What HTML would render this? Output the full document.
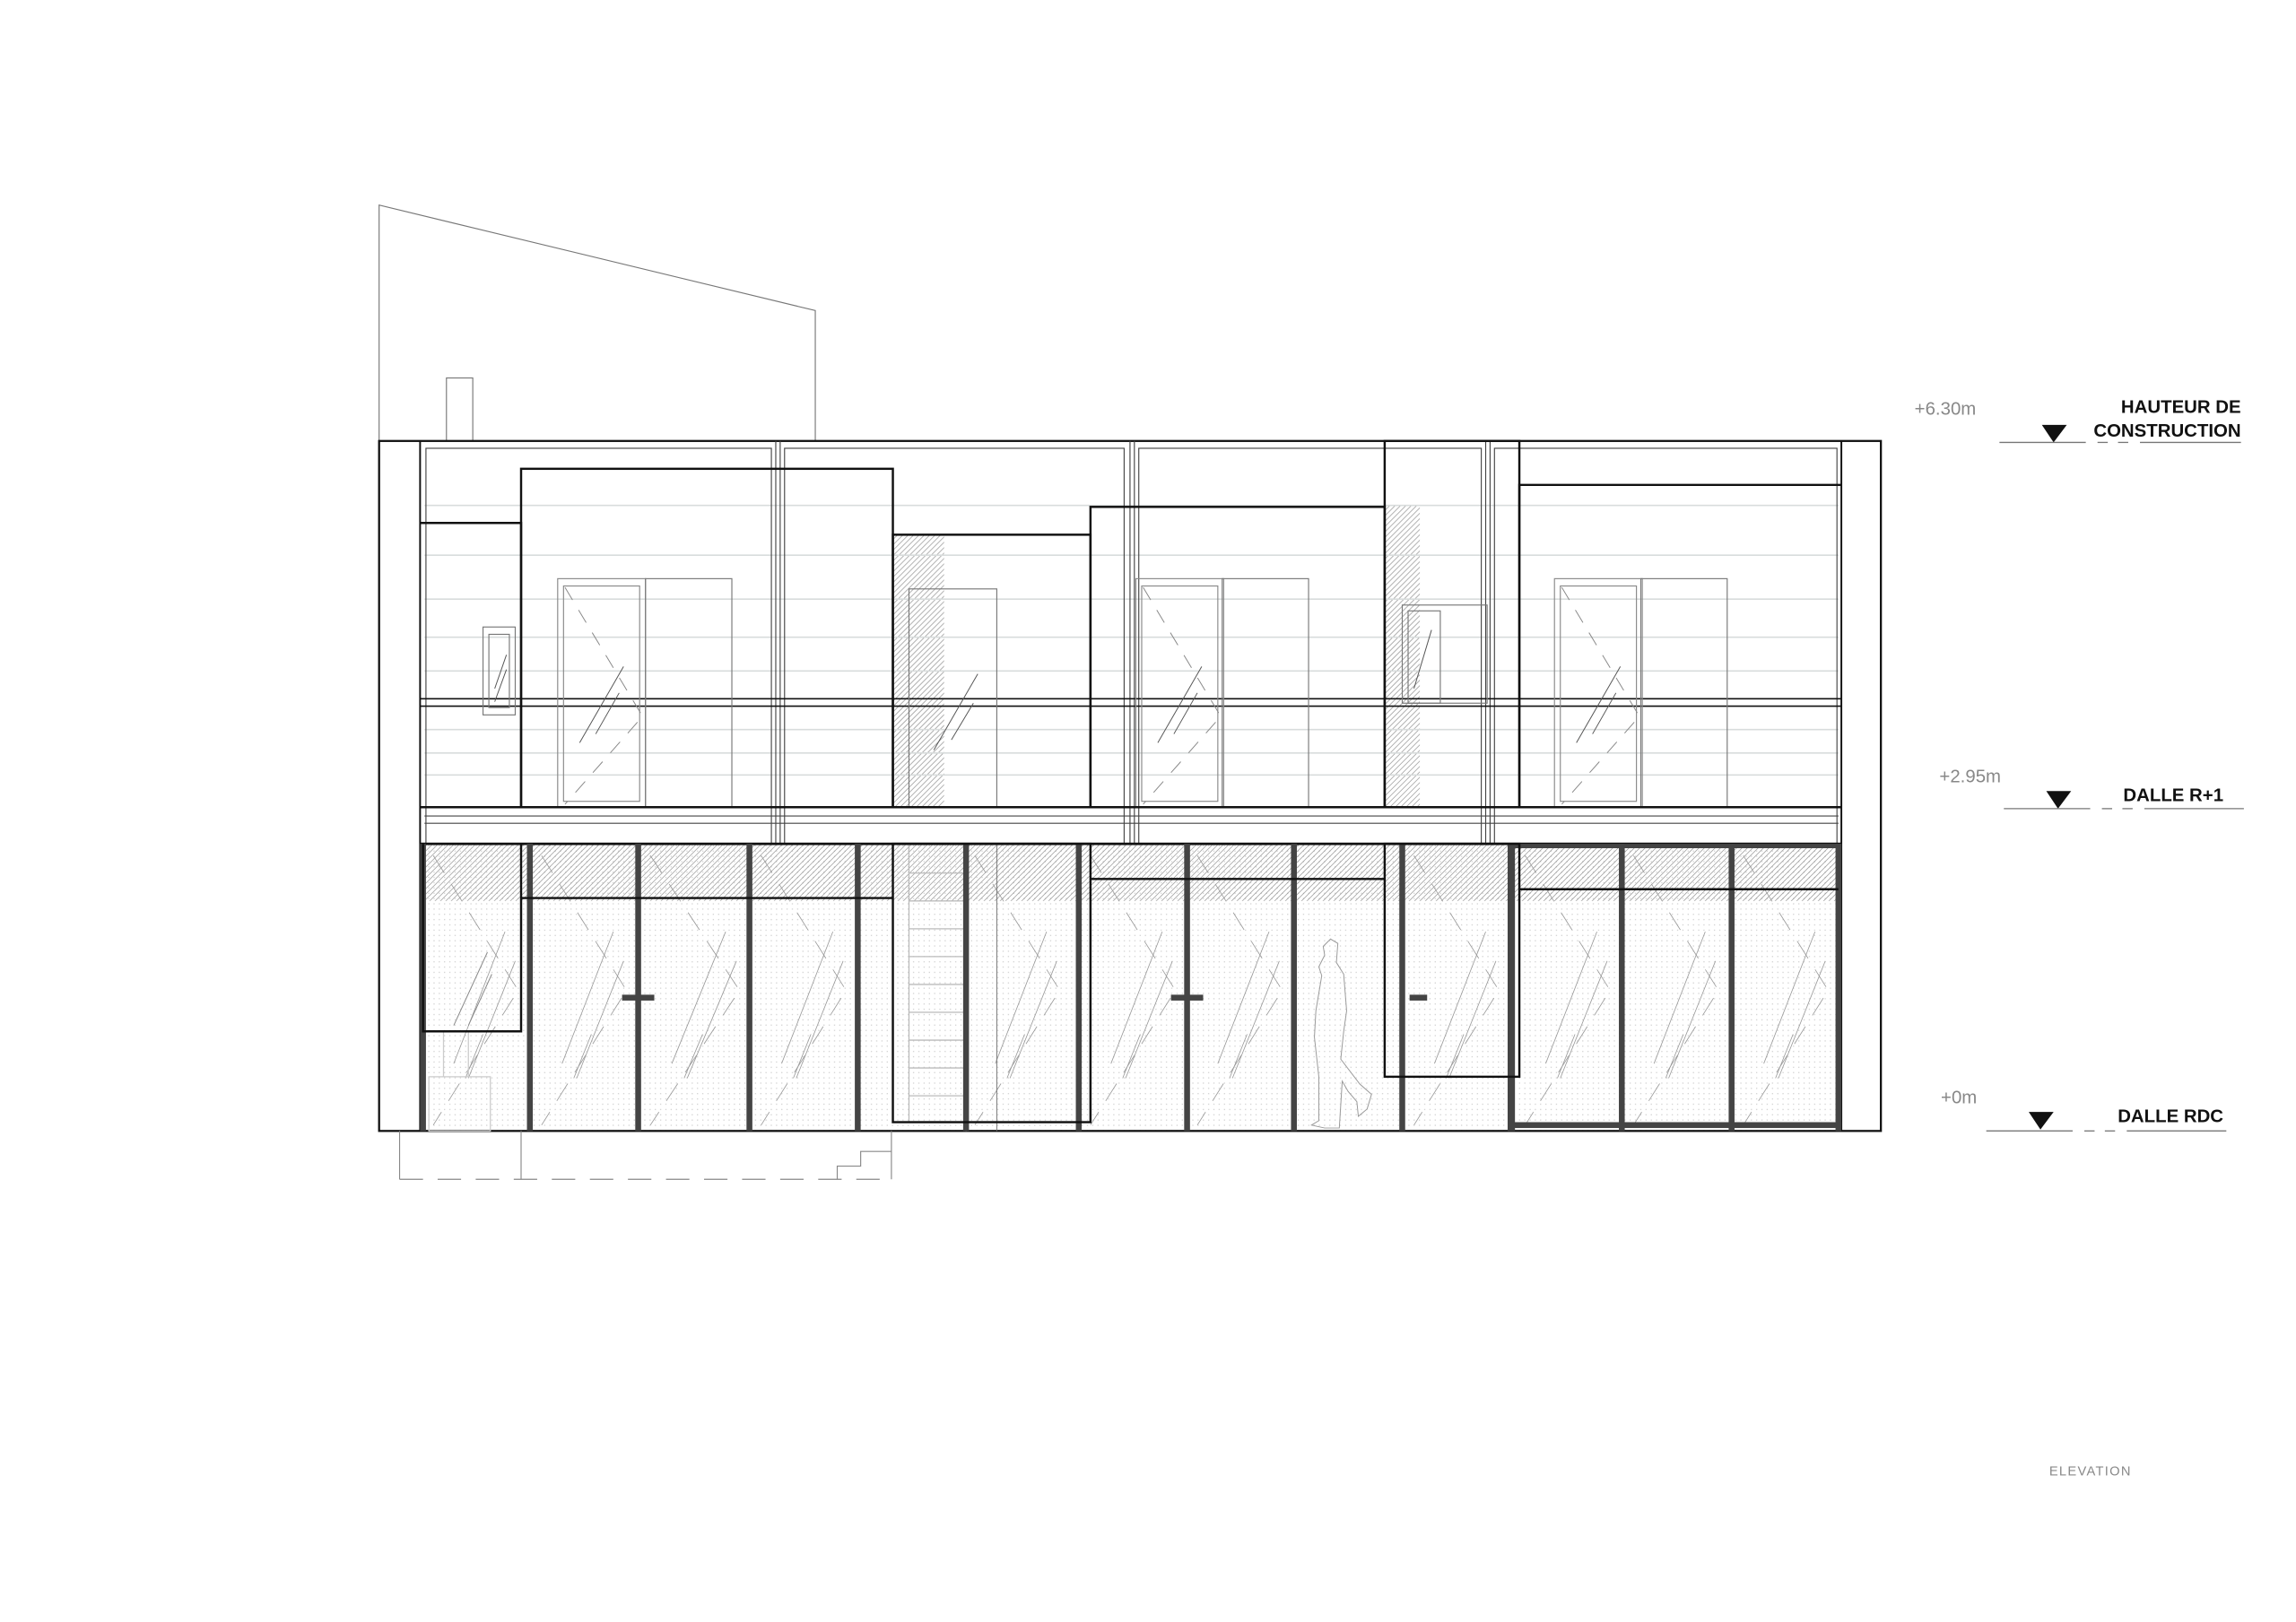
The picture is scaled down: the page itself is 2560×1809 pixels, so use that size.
<!DOCTYPE html>
<html><head><meta charset="utf-8"><style>
html,body{margin:0;padding:0;background:#fff}
svg{display:block}
text{font-family:"Liberation Sans",sans-serif}
</style></head><body>
<svg width="2560" height="1809" viewBox="0 0 1568.6 1107.2" preserveAspectRatio="none" xmlns="http://www.w3.org/2000/svg">
<defs>
<pattern id="hatch" width="2.6" height="2.6" patternUnits="userSpaceOnUse" patternTransform="rotate(45)">
<line x1="0" y1="0" x2="0" y2="2.6" stroke="#8a8a8a" stroke-width="0.8"/>
</pattern>
<pattern id="dots" width="3.6" height="3.6" patternUnits="userSpaceOnUse">
<rect x="1" y="1" width="0.7" height="0.7" fill="#c4c4c4"/>
</pattern>
<g id="gp" fill="none" stroke="#999" stroke-width="0.5">
<path d="M6 8 L64 100 L6 192" stroke-dasharray="14 9"/>
<line x1="55" y1="60" x2="20" y2="150"/>
<line x1="62" y1="80" x2="30" y2="160"/>
<line x1="40" y1="130" x2="28" y2="160"/>
</g>
<g id="uw" fill="none">
<rect x="0" y="0" width="60" height="156" stroke="#888" stroke-width="0.7"/>
<rect x="4" y="5" width="52" height="147" stroke="#888" stroke-width="0.7"/>
<path d="M5 6 L58 94 L5 154" stroke="#888" stroke-width="0.6" stroke-dasharray="10 8"/>
<line x1="45" y1="60" x2="15" y2="112" stroke="#555" stroke-width="0.6"/>
<line x1="42" y1="78" x2="26" y2="106" stroke="#555" stroke-width="0.6"/>
</g>
</defs>

<polyline points="259,301 259,140 557,212 557,301" fill="none" stroke="#777" stroke-width="0.7"/>
<rect x="305" y="258" width="18" height="43" fill="none" stroke="#777" stroke-width="0.7"/>

<rect x="287" y="576" width="971" height="196" fill="url(#dots)"/>
<rect x="287" y="576" width="971" height="39" fill="url(#hatch)"/>
<rect x="610" y="365" width="35" height="186" fill="url(#hatch)"/>
<rect x="946" y="345" width="24" height="206" fill="url(#hatch)"/>

<g stroke="#d8dcdc" stroke-width="1">
<line x1="290" y1="345" x2="1256" y2="345"/>
<line x1="290" y1="379" x2="1256" y2="379"/>
<line x1="290" y1="409" x2="1256" y2="409"/>
<line x1="290" y1="435" x2="1256" y2="435"/>
<line x1="290" y1="458" x2="1256" y2="458"/>
<line x1="290" y1="498" x2="1256" y2="498"/>
<line x1="290" y1="514" x2="1256" y2="514"/>
<line x1="290" y1="529" x2="1256" y2="529"/>
</g>

<g fill="none" stroke="#111">
<rect x="259" y="301" width="1026" height="471" stroke-width="1.4"/>
<line x1="287" y1="301" x2="287" y2="772" stroke-width="1.2"/>
<line x1="1258" y1="301" x2="1258" y2="772" stroke-width="1.2"/>
</g>
<g fill="none" stroke="#444" stroke-width="0.7">
<rect x="291" y="306" width="236" height="270"/>
<rect x="536" y="306" width="232" height="270"/>
<rect x="778" y="306" width="234" height="270"/>
<rect x="1021" y="306" width="234" height="270"/>
<line x1="530" y1="301" x2="530" y2="576"/><line x1="533" y1="301" x2="533" y2="576"/>
<line x1="772" y1="301" x2="772" y2="576"/><line x1="775" y1="301" x2="775" y2="576"/>
<line x1="1015" y1="301" x2="1015" y2="576"/><line x1="1018" y1="301" x2="1018" y2="576"/>
<line x1="290" y1="557" x2="1256" y2="557"/>
<line x1="290" y1="562" x2="1256" y2="562"/>
</g>
<g stroke="#111" stroke-width="1">
<line x1="287" y1="477" x2="1258" y2="477"/>
<line x1="287" y1="482" x2="1258" y2="482"/>
</g>

<use href="#uw" x="381" y="395"/>
<rect x="441" y="395" width="59" height="156" fill="none" stroke="#777" stroke-width="0.7"/>
<use href="#uw" x="776" y="395"/>
<rect x="835" y="395" width="59" height="156" fill="none" stroke="#777" stroke-width="0.7"/>
<use href="#uw" x="1062" y="395"/>
<rect x="1121" y="395" width="59" height="156" fill="none" stroke="#777" stroke-width="0.7"/>
<rect x="621" y="402" width="60" height="149" fill="none" stroke="#777" stroke-width="0.7"/>
<line x1="668" y1="460" x2="638" y2="512" stroke="#555" stroke-width="0.6"/>
<line x1="665" y1="480" x2="650" y2="505" stroke="#555" stroke-width="0.6"/>
<rect x="330" y="428" width="22" height="60" fill="none" stroke="#777" stroke-width="0.7"/>
<rect x="334" y="433" width="14" height="50" fill="none" stroke="#777" stroke-width="0.7"/>
<line x1="346" y1="447" x2="338" y2="470" stroke="#555" stroke-width="0.6"/>
<line x1="346" y1="457" x2="338" y2="479" stroke="#555" stroke-width="0.6"/>
<rect x="958" y="413" width="58" height="67" fill="none" stroke="#777" stroke-width="0.7"/>
<rect x="962" y="417" width="22" height="63" fill="none" stroke="#777" stroke-width="0.7"/>
<line x1="978" y1="430" x2="966" y2="470" stroke="#555" stroke-width="0.6"/>

<g fill="none" stroke="#111" stroke-width="1.5">
<polyline points="287,357 356,357 356,551"/>
<rect x="356" y="320" width="254" height="231"/>
<rect x="610" y="365" width="135" height="186"/>
<rect x="745" y="346" width="201" height="205"/>
<rect x="946" y="301" width="92" height="250"/>
<polyline points="1038,551 1038,331 1258,331"/>
<line x1="287" y1="551" x2="1258" y2="551"/>
<line x1="287" y1="576" x2="1258" y2="576" stroke-width="1.7"/>
</g>

<use href="#gp" transform="translate(290,576)"/>
<use href="#gp" transform="translate(364,576)"/>
<use href="#gp" transform="translate(438,576) scale(1.05,1)"/>
<use href="#gp" transform="translate(514,576)"/>
<use href="#gp" transform="translate(660,576)"/>
<use href="#gp" transform="translate(739,576)"/>
<use href="#gp" transform="translate(812,576)"/>
<use href="#gp" transform="translate(960,576)"/>
<use href="#gp" transform="translate(1036,576)"/>
<use href="#gp" transform="translate(1110,576)"/>
<use href="#gp" transform="translate(1185,576)"/>

<g stroke="#bbb" stroke-width="0.8">
<line x1="621" y1="576" x2="621" y2="766"/>
<line x1="660" y1="576" x2="660" y2="772"/>
<line x1="621" y1="596" x2="660" y2="596"/><line x1="621" y1="615" x2="660" y2="615"/>
<line x1="621" y1="634" x2="660" y2="634"/><line x1="621" y1="653" x2="660" y2="653"/>
<line x1="621" y1="672" x2="660" y2="672"/><line x1="621" y1="691" x2="660" y2="691"/>
<line x1="621" y1="710" x2="660" y2="710"/><line x1="621" y1="729" x2="660" y2="729"/>
<line x1="621" y1="748" x2="660" y2="748"/>
</g>
<line x1="681" y1="576" x2="681" y2="772" stroke="#777" stroke-width="0.6"/>

<rect x="293" y="735" width="42" height="37" fill="none" stroke="#ccc" stroke-width="0.8"/>
<line x1="303" y1="704" x2="303" y2="735" stroke="#ccc" stroke-width="0.8"/>
<line x1="320" y1="704" x2="320" y2="735" stroke="#ccc" stroke-width="0.8"/>
<line x1="333" y1="650" x2="310" y2="700" stroke="#888" stroke-width="0.6"/>
<line x1="336" y1="665" x2="320" y2="700" stroke="#888" stroke-width="0.6"/>

<g fill="#444">
<rect x="287" y="576" width="4" height="196"/>
<rect x="360" y="576" width="4" height="196"/>
<rect x="434" y="576" width="4" height="196"/>
<rect x="510" y="576" width="4" height="196"/>
<rect x="584" y="576" width="4" height="196"/>
<rect x="658" y="576" width="4" height="196"/>
<rect x="735" y="576" width="4" height="196"/>
<rect x="809" y="576" width="4" height="196"/>
<rect x="882" y="576" width="4" height="196"/>
<rect x="956" y="576" width="4" height="196"/>
<rect x="1030" y="576" width="5" height="196"/>
<rect x="1106" y="576" width="4" height="196"/>
<rect x="1181" y="576" width="4" height="196"/>
<rect x="1254" y="576" width="4" height="196"/>
<rect x="1032" y="766" width="226" height="4"/>
<rect x="1032" y="576" width="226" height="3"/>
<rect x="425" y="679" width="22" height="4"/>
<rect x="800" y="679" width="22" height="4"/>
<rect x="963" y="679" width="12" height="4"/>
</g>

<g fill="none" stroke="#111" stroke-width="1.5">
<polyline points="289,576 289,704 356,704 356,576"/>
<line x1="356" y1="613" x2="610" y2="613"/>
<rect x="610" y="576" width="135" height="190"/>
<line x1="745" y1="600" x2="946" y2="600"/>
<rect x="946" y="576" width="92" height="159"/>
<line x1="1038" y1="607" x2="1256" y2="607"/>
</g>

<path d="M905 770 L896 768 L901 765 L901 735 L898 708 L899 690 L903 666 L901 660 L905 652 L904 646 L909 641 L914 644 L913 657 L918 665 L920 690 L918 704 L916 723 L929 740 L937 747 L934 757 L928 762 L927 752 L921 745 L917 738 L915 770 Z" fill="none" stroke="#999" stroke-width="0.6"/>

<g fill="none" stroke="#888" stroke-width="0.7">
<polyline points="273,772 273,805"/>
<polyline points="356,772 356,805"/>
<polyline points="572,805 572,796 588,796 588,786 609,786 609,772 609,805"/>
<line x1="273" y1="805" x2="609" y2="805" stroke-dasharray="16 10"/>
</g>

<g font-size="12.5" fill="#888">
<text x="1308" y="283">+6.30m</text>
<text x="1325" y="534">+2.95m</text>
<text x="1326" y="753">+0m</text>
</g>
<g font-size="12.5" font-weight="bold" fill="#111" text-anchor="end">
<text x="1531" y="282">HAUTEUR DE</text>
<text x="1531" y="298">CONSTRUCTION</text>
<text x="1519" y="547">DALLE R+1</text>
<text x="1519" y="766">DALLE RDC</text>
</g>
<g fill="#111">
<polygon points="1395,290 1412,290 1403,302"/>
<polygon points="1398,540 1415,540 1406,552"/>
<polygon points="1386,759 1403,759 1394,771"/>
</g>
<g stroke="#777" stroke-width="0.8">
<line x1="1366" y1="302" x2="1425" y2="302"/><line x1="1433" y1="302" x2="1440" y2="302"/><line x1="1447" y1="302" x2="1454" y2="302"/><line x1="1462" y1="302" x2="1531" y2="302"/>
<line x1="1369" y1="552" x2="1428" y2="552"/><line x1="1436" y1="552" x2="1443" y2="552"/><line x1="1450" y1="552" x2="1457" y2="552"/><line x1="1465" y1="552" x2="1533" y2="552"/>
<line x1="1357" y1="772" x2="1416" y2="772"/><line x1="1424" y1="772" x2="1431" y2="772"/><line x1="1438" y1="772" x2="1445" y2="772"/><line x1="1453" y1="772" x2="1521" y2="772"/>
</g>
<text x="1400" y="1007" font-size="9" fill="#888" letter-spacing="0.8">ELEVATION</text>
</svg>
</body></html>
